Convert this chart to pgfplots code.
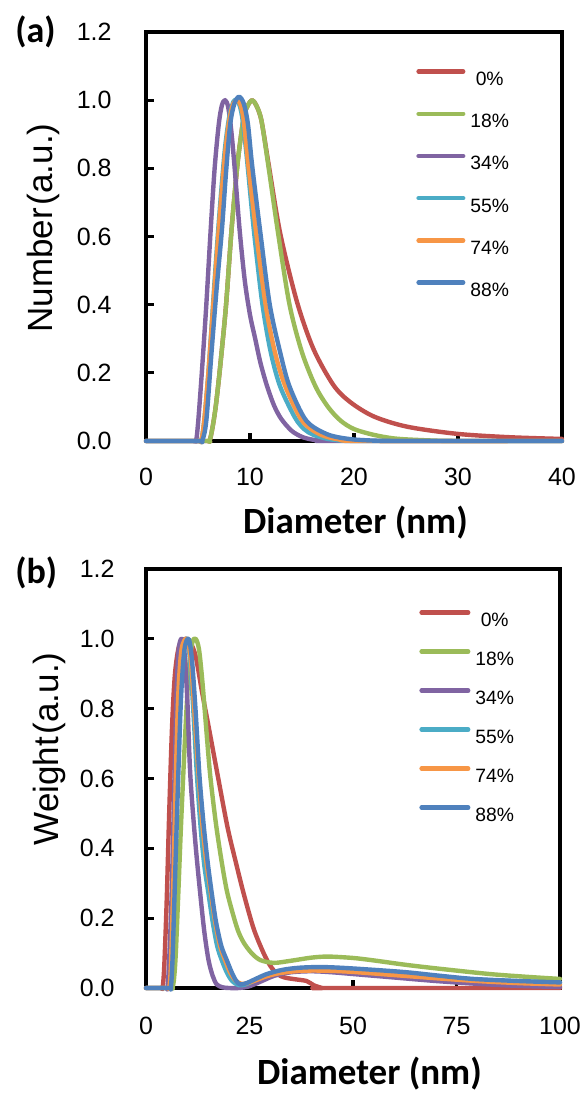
\documentclass[border=0pt]{standalone}
\usepackage{fontspec}
\setmainfont{Liberation Sans}
\newfontfamily\calibri{Carlito}
\usepackage{pgfplots}
\pgfplotsset{compat=1.18}

\definecolor{c0}{HTML}{C0504D}
\definecolor{c18}{HTML}{9BBB59}
\definecolor{c34}{HTML}{8064A2}
\definecolor{c55}{HTML}{4BACC6}
\definecolor{c74}{HTML}{F79646}
\definecolor{c88}{HTML}{4F81BD}

\pgfplotsset{
  psd/.style={
    scale only axis, clip=false,
    ymin=0, ymax=1.2, ytick={0,0.2,0.4,0.6,0.8,1.0,1.2},
    axis line style={line width=1.6pt, black},
    tick style={line width=1.6pt, black},
    tick align=inside, major tick length=4pt, tick pos=left,
    /pgf/number format/assume math mode=true,
    tick label style={font=\fontsize{12.5}{14}\selectfont},
    yticklabel style={/pgf/number format/fixed, /pgf/number format/fixed zerofill,
      /pgf/number format/precision=1, anchor=east, inner sep=0pt},
    xticklabel style={anchor=north, inner sep=0pt},
    legend cell align=center,
    legend style={draw=none, fill=none, inner sep=0pt, anchor=north west,
      font=\fontsize{9.65}{11}\selectfont, column sep=2.5pt,
      nodes={inner sep=0pt, text height=7pt, text depth=0pt}},
    every axis plot/.append style={line width=2.2pt, smooth, tension=0.5,
      line join=round, line cap=round, no markers},
  },
}

\begin{document}
\begin{tikzpicture}
\useasboundingbox (0,0) rectangle (293pt,548pt);

% (a) number distribution
\begin{axis}[psd,
  at={(73pt,327.5pt)}, anchor=south west,
  width=208pt, height=204.5pt,
  xmin=0, xmax=40, xtick={0,10,20,30,40},
  yticklabel style={xshift=-17pt},
  xticklabel style={yshift=-13.5pt},
  legend style={at={(0.649,0.9095)}, row sep=13pt},
  legend image code/.code={\draw[#1, line width=2.2pt, line cap=round] (1.1pt,3.5pt) -- (23.4pt,3.5pt);},
]
\addplot[c0] coordinates {(0,0) (5.7,0) (6.1,0) (6.4,0.04) (6.7,0.10) (7.0,0.18) (7.3,0.27) (7.7,0.40) (8.2,0.61) (8.6,0.75) (8.9,0.84) (9.4,0.95) (9.8,0.985) (10.2,1.0) (10.6,0.985) (11.1,0.94) (11.8,0.81) (12.9,0.61) (14.5,0.41) (16.1,0.27) (18.0,0.165) (19.6,0.115) (21.9,0.072) (25.1,0.042) (29.9,0.021) (35,0.011) (40,0.006)};
\addlegendentry{0\%}
\addplot[c18] coordinates {(0,0) (5.7,0) (6.1,0) (6.4,0.04) (6.7,0.10) (7.0,0.18) (7.3,0.27) (7.7,0.40) (8.2,0.61) (8.6,0.75) (8.9,0.84) (9.4,0.95) (9.8,0.985) (10.2,1.0) (10.6,0.985) (11.1,0.94) (11.8,0.80) (12.7,0.61) (13.8,0.40) (15.0,0.26) (16.3,0.16) (17.5,0.10) (18.7,0.06) (20,0.035) (21.9,0.018) (24,0.007) (27,0.002) (30,0) (40,0)};
\addlegendentry{18\%}
\addplot[c34] coordinates {(0,0) (4.4,0) (4.8,0) (5.0,0.05) (5.25,0.15) (5.5,0.26) (5.8,0.40) (6.2,0.61) (6.6,0.80) (7.0,0.93) (7.3,0.985) (7.6,1.0) (7.9,0.98) (8.2,0.91) (8.5,0.81) (9.0,0.62) (9.5,0.47) (10.0,0.37) (10.5,0.30) (11.0,0.23) (11.6,0.165) (12.3,0.105) (13.0,0.065) (14.0,0.03) (15.0,0.012) (16.0,0.004) (17,0.001) (18,0) (40,0)};
\addlegendentry{34\%}
\addplot[c55] coordinates {(0,0) (4.9,0) (5.3,0) (5.6,0.06) (6.0,0.2) (6.4,0.38) (6.8,0.56) (7.2,0.72) (7.6,0.86) (8.0,0.95) (8.4,0.995) (8.7,1.0) (9.0,0.985) (9.3,0.94) (9.7,0.83) (10.4,0.61) (11.2,0.40) (12.0,0.26) (12.9,0.16) (14.3,0.07) (15.2,0.035) (16.1,0.018) (17.5,0.006) (19,0.001) (21,0) (40,0)};
\addlegendentry{55\%}
\addplot[c74] coordinates {(0,0) (4.9,0) (5.3,0) (5.6,0.06) (6.0,0.2) (6.4,0.37) (6.8,0.54) (7.2,0.70) (7.6,0.84) (8.0,0.94) (8.4,0.99) (8.8,1.0) (9.1,0.985) (9.4,0.94) (9.8,0.82) (10.6,0.61) (11.5,0.40) (12.4,0.26) (13.4,0.16) (15.0,0.06) (16.7,0.02) (18.5,0.005) (21,0) (40,0)};
\addlegendentry{74\%}
\addplot[c88] coordinates {(0,0) (5.0,0) (5.4,0) (5.8,0.06) (6.3,0.26) (6.8,0.45) (7.3,0.62) (7.7,0.79) (8.1,0.93) (8.5,0.99) (8.95,1.01) (9.4,0.99) (9.8,0.93) (10.2,0.81) (11.0,0.61) (11.9,0.40) (12.9,0.26) (13.8,0.16) (15.4,0.06) (17.4,0.02) (19.5,0.006) (22,0.001) (25,0) (40,0)};
\addlegendentry{88\%}
\end{axis}

% (b) weight distribution
\begin{axis}[psd,
  at={(73pt,54pt)}, anchor=south west,
  width=207pt, height=209.5pt,
  xmin=0, xmax=100, xtick={0,25,50,75,100},
  yticklabel style={xshift=-15.5pt},
  xticklabel style={yshift=-14.5pt},
  legend style={at={(0.6594,0.902)}, row sep=11.4pt},
  legend image code/.code={\draw[#1, line width=2.2pt, line cap=round] (1.1pt,3.5pt) -- (24.4pt,3.5pt);},
]
\addplot[c0] coordinates {(0,0) (3.6,0) (4.0,0) (4.4,0.06) (5.0,0.25) (5.6,0.5) (6.3,0.75) (7.0,0.9) (8.0,0.98) (9.5,1.0) (10.7,0.99) (12.0,0.95) (13.5,0.85) (15.1,0.75) (17.3,0.61) (19.7,0.46) (21.7,0.36) (23.6,0.27) (26.0,0.17) (28.4,0.10) (30.0,0.064) (31.7,0.04) (33.5,0.03) (36,0.025) (38.8,0.02) (40.5,0.008) (42.6,0) (44,0) (100,0)};
\addlegendentry{0\%}
\addplot[c18] coordinates {(0,0) (6.0,0) (6.4,0) (6.8,0.03) (7.2,0.1) (7.8,0.27) (8.4,0.45) (9.0,0.61) (9.7,0.78) (10.4,0.92) (11.2,0.99) (12.0,1.0) (12.8,0.97) (13.6,0.88) (14.5,0.75) (15.5,0.61) (16.9,0.47) (18.3,0.36) (19.5,0.28) (20.8,0.22) (22.2,0.165) (23.6,0.13) (25.5,0.10) (27.6,0.08) (30.9,0.072) (35,0.078) (40,0.087) (44,0.09) (50,0.086) (55,0.079) (63,0.066) (71,0.055) (83,0.04) (92,0.032) (100,0.026)};
\addlegendentry{18\%}
\addplot[c34] coordinates {(0,0) (4.8,0) (5.2,0) (5.6,0.08) (6.2,0.27) (6.9,0.61) (7.4,0.85) (7.9,0.97) (8.6,1.0) (9.3,0.96) (10.0,0.82) (10.7,0.61) (11.9,0.42) (13.1,0.27) (14.1,0.16) (15.1,0.08) (16.1,0.035) (17.1,0.01) (18.5,0.002) (20,0) (22.5,0) (25,0.005) (28,0.02) (31,0.035) (35,0.045) (40,0.048) (45,0.045) (50,0.04) (60,0.03) (70,0.02) (80,0.012) (90,0.006) (100,0.003)};
\addlegendentry{34\%}
\addplot[c55] coordinates {(0,0) (5.4,0) (5.8,0) (6.2,0.06) (6.8,0.3) (7.4,0.6) (8.0,0.84) (8.7,0.97) (9.9,1.0) (10.7,0.93) (11.5,0.78) (12.3,0.61) (13.2,0.46) (14.1,0.35) (15.1,0.27) (16.1,0.19) (17.2,0.12) (18.3,0.08) (19.5,0.045) (20.8,0.02) (22.4,0.008) (24,0.01) (26,0.02) (28,0.032) (31,0.045) (35,0.053) (40,0.056) (45,0.055) (50,0.05) (60,0.04) (70,0.031) (80,0.024) (90,0.019) (100,0.015)};
\addlegendentry{55\%}
\addplot[c74] coordinates {(0,0) (5.2,0) (5.6,0) (6.0,0.06) (6.6,0.3) (7.2,0.6) (7.8,0.84) (8.6,0.97) (9.9,1.0) (10.8,0.94) (11.7,0.79) (12.7,0.61) (13.6,0.47) (14.6,0.36) (15.7,0.27) (16.7,0.19) (17.9,0.12) (19.1,0.08) (20.3,0.045) (21.6,0.022) (23,0.012) (24.5,0.014) (26.5,0.022) (29,0.033) (32,0.042) (36,0.048) (40,0.05) (45,0.049) (50,0.046) (60,0.037) (70,0.028) (80,0.02) (90,0.014) (100,0.01)};
\addlegendentry{74\%}
\addplot[c88] coordinates {(0,0) (5.6,0) (6.0,0) (6.4,0.08) (6.9,0.27) (7.8,0.61) (8.5,0.84) (9.3,0.97) (10.3,1.0) (11.1,0.94) (12.0,0.79) (12.9,0.61) (13.9,0.47) (14.9,0.36) (15.9,0.27) (16.9,0.19) (18.2,0.12) (19.5,0.08) (20.7,0.045) (21.8,0.02) (22.8,0.01) (24.3,0.014) (26.5,0.026) (29.2,0.04) (33,0.052) (37,0.058) (42,0.06) (47,0.058) (55,0.052) (63,0.045) (71,0.035) (79,0.026) (90,0.02) (100,0.016)};
\addlegendentry{88\%}
\end{axis}

% panel letters and axis titles
\node[anchor=base west, inner sep=0pt, font={\calibri\bfseries\fontsize{18}{20}\selectfont}] at (7.5pt,526.5pt) {(a)};
\node[anchor=base west, inner sep=0pt, font={\calibri\bfseries\fontsize{18}{20}\selectfont}] at (7.5pt,256pt) {(b)};
\node[anchor=base, inner sep=0pt, font={\calibri\bfseries\fontsize{18.5}{20}\selectfont}] at (177.75pt,281pt) {Diameter (nm)};
\node[anchor=base, inner sep=0pt, font={\calibri\bfseries\fontsize{18.5}{20}\selectfont}] at (184.75pt,5.5pt) {Diameter (nm)};
\node[rotate=90, anchor=base east, inner sep=0pt, font=\fontsize{17.5}{20}\selectfont] at (26pt,486.5pt) {Number\kern1.5pt(a.u.)};
\node[rotate=90, anchor=base east, inner sep=0pt, font=\fontsize{17.5}{20}\selectfont] at (29pt,222pt) {Weight\kern1.5pt(a.u.)};
\end{tikzpicture}
\end{document}
